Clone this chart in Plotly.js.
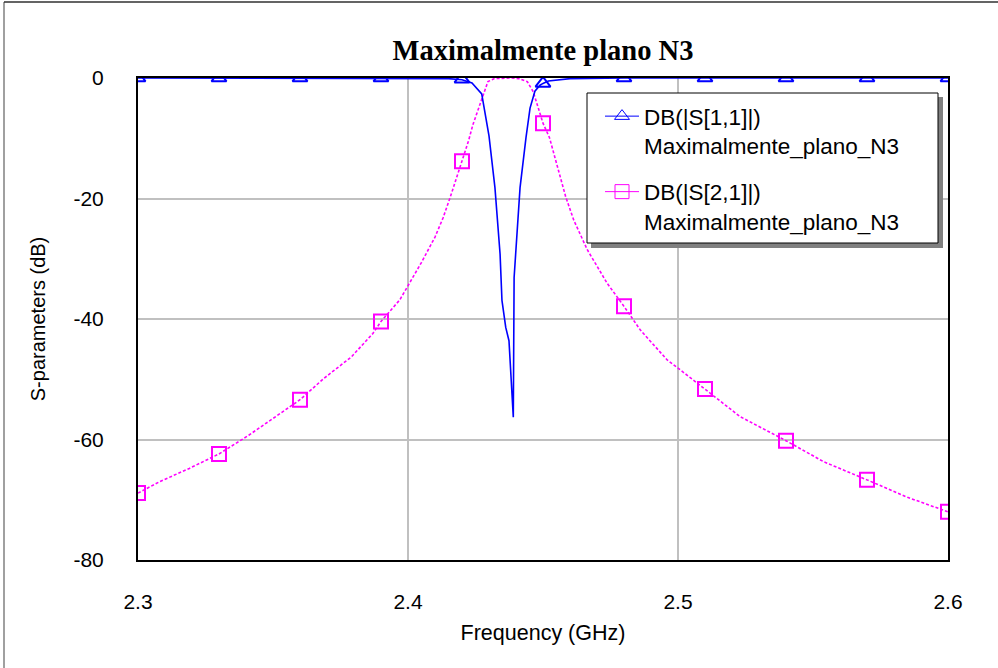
<!DOCTYPE html>
<html>
<head>
<meta charset="utf-8">
<script src="https://cdn.plot.ly/plotly-3.0.1.min.js"></script>
<style>
  html, body { margin: 0; padding: 0; background: #ffffff; }
  #chart { width: 998px; height: 668px; }
</style>
</head>
<body>
<div id="chart"></div>
<script>
// ---- Data ----
const chartTitle = "Maximalmente plano N3";
const xTitle = "Frequency (GHz)";
const yTitle = "S-parameters (dB)";
const s11Name = "DB(|S[1,1]|)<br>Maximalmente_plano_N3";
const s21Name = "DB(|S[2,1]|)<br>Maximalmente_plano_N3";

const xTickVals = [2.3, 2.4, 2.5, 2.6];
const xTickText = ["2.3", "2.4", "2.5", "2.6"];
const yTickVals = [0, -20, -40, -60, -80];
const yTickText = ["0", "-20", "-40", "-60", "-80"];

// S11 curve (GHz, dB)
const s11Freq = [2.300, 2.330, 2.360, 2.390, 2.410, 2.415, 2.420, 2.4237, 2.4273, 2.4300, 2.4322, 2.4341, 2.4348, 2.4362, 2.4374, 2.4390, 2.4393, 2.4415, 2.4437, 2.4452, 2.4470, 2.4489, 2.4500, 2.4520, 2.4600, 2.480, 2.510, 2.540, 2.570, 2.600];
const s11Db   = [0, 0, 0, 0, 0, -0.1, -0.3, -0.83, -2.65, -9.6, -18.2, -29.2, -36.9, -41.4, -43.6, -56.3, -33.1, -18.2, -9.9, -5.0, -2.2, -1.2, -0.9, -0.5, -0.1, 0, 0, 0, 0, 0];
// S11 marker points
const s11MarkFreq = [2.30, 2.33, 2.36, 2.39, 2.42, 2.45, 2.48, 2.51, 2.54, 2.57, 2.60];
const s11MarkDb   = [0, 0, 0, 0, -0.2, -0.9, 0, 0, 0, 0, 0];

// S21 curve (GHz, dB)
const s21Freq = [2.300, 2.308, 2.319, 2.330, 2.341, 2.352, 2.360, 2.369, 2.379, 2.387, 2.390, 2.397, 2.400, 2.405, 2.410, 2.413, 2.416, 2.420, 2.4225, 2.424, 2.4275, 2.4296, 2.432, 2.435, 2.438, 2.441, 2.4442, 2.4464, 2.448, 2.450, 2.4524, 2.4553, 2.4584, 2.4614, 2.4664, 2.4738, 2.480, 2.486, 2.496, 2.501, 2.510, 2.523, 2.540, 2.554, 2.570, 2.585, 2.600];
const s21Db   = [-68.9, -67.0, -64.8, -62.4, -59.3, -55.9, -53.4, -49.8, -46.3, -42.4, -40.4, -36.8, -34.5, -30.6, -26.4, -23.2, -19.3, -13.8, -10.3, -7.8, -3.1, -0.6, -0.1, 0, 0, -0.1, -0.6, -2.3, -4.8, -7.5, -9.9, -14.7, -19.7, -23.6, -28.5, -34.1, -37.9, -41.8, -46.8, -48.5, -51.6, -56.2, -60.2, -63.7, -66.7, -69.6, -72.0];
// S21 marker points
const s21MarkFreq = [2.30, 2.33, 2.36, 2.39, 2.42, 2.45, 2.48, 2.51, 2.54, 2.57, 2.60];
const s21MarkDb   = [-68.9, -62.4, -53.4, -40.4, -13.8, -7.5, -37.9, -51.6, -60.2, -66.7, -72.0];

// ---- Styling ----
const BLUE = "#0000FF";
const MAGENTA = "#FF00FF";
const FONT = "Arial, 'Liberation Sans', sans-serif";

// plot area in pixels: left 138, right 948, top 78, bottom 560
const PL = 138, PR = 948, PT = 78, PB = 560;
const px = v => (v - PL) / (PR - PL);
const py = v => (PB - v) / (PB - PT);

const traces = [
  { x: s21Freq, y: s21Db, mode: "lines", showlegend: false,
    line: { color: MAGENTA, width: 1.6, dash: "3px,2px" } },
  { x: s21MarkFreq, y: s21MarkDb, mode: "markers", showlegend: false,
    marker: { symbol: "square-open", size: 14, color: MAGENTA, line: { color: MAGENTA, width: 2 } } },
  { x: s11Freq, y: s11Db, mode: "lines", showlegend: false,
    line: { color: BLUE, width: 1.6 } },
  { x: s11MarkFreq, y: s11MarkDb, mode: "markers", showlegend: false,
    marker: { symbol: "triangle-up-open", size: 13, color: BLUE, line: { color: BLUE, width: 2 } } },
  // legend entries
  { x: [null], y: [null], mode: "lines+markers", name: s11Name, legendgroup: "a",
    line: { color: BLUE, width: 1 },
    marker: { symbol: "triangle-up-open", size: 13, color: BLUE, line: { color: BLUE, width: 1 } } },
  { x: [null], y: [null], mode: "lines+markers", name: s21Name, legendgroup: "b",
    line: { color: MAGENTA, width: 1 },
    marker: { symbol: "square-open", size: 14, color: MAGENTA, line: { color: MAGENTA, width: 1 } } }
];

const layout = {
  width: 998, height: 668,
  margin: { l: PL, r: 998 - PR, t: PT, b: 668 - PB, autoexpand: false },
  paper_bgcolor: "#ffffff", plot_bgcolor: "#ffffff",
  font: { family: FONT, size: 21, color: "#000000" },
  title: {
    text: chartTitle,
    font: { family: "'Liberation Serif', 'Times New Roman', serif", size: 28.5, color: "#000000", weight: "bold" },
    x: 0.5, xref: "paper", xanchor: "center",
    y: 1 - 50 / 668, yref: "container", yanchor: "middle"
  },
  xaxis: {
    range: [2.3, 2.6], tickmode: "array", tickvals: xTickVals, ticktext: xTickText,
    showgrid: true, gridcolor: "#C0C0C0", gridwidth: 2, zeroline: false,
    showline: true, linecolor: "#000000", linewidth: 2, mirror: true,
    ticks: "", ticklabelstandoff: 22,
    tickfont: { family: FONT, size: 21, color: "#000000" },
    title: { text: xTitle, font: { family: FONT, size: 21.5, color: "#000000" }, standoff: 13 }
  },
  yaxis: {
    range: [-80, 0], tickmode: "array", tickvals: yTickVals, ticktext: yTickText,
    showgrid: true, gridcolor: "#C0C0C0", gridwidth: 2, zeroline: false,
    showline: true, linecolor: "#000000", linewidth: 2, mirror: true,
    ticks: "", ticklabelstandoff: 28,
    tickfont: { family: FONT, size: 21, color: "#000000" },
    title: { text: yTitle, font: { family: FONT, size: 20, color: "#000000" }, standoff: 22 }
  },
  showlegend: true,
  legend: {
    x: px(600), y: py(95), xanchor: "left", yanchor: "top",
    bgcolor: "rgba(0,0,0,0)", borderwidth: 0,
    font: { family: FONT, size: 22.5, color: "#000000" },
    traceorder: "grouped", tracegroupgap: 14, valign: "top", itemwidth: 34
  },
  shapes: [
    // legend shadow
    { type: "rect", xref: "paper", yref: "paper", layer: "above",
      x0: px(591), x1: px(943), y0: py(248), y1: py(97),
      fillcolor: "#808080", line: { width: 0 } },
    // legend box
    { type: "rect", xref: "paper", yref: "paper", layer: "above",
      x0: px(587), x1: px(938), y0: py(243), y1: py(93),
      fillcolor: "#ffffff", line: { color: "#000000", width: 1 } },
    // outer frame (left and top)
    { type: "line", xref: "paper", yref: "paper", layer: "below",
      x0: px(4), x1: px(4), y0: py(668), y1: py(2),
      line: { color: "#808080", width: 1.5 } },
    { type: "line", xref: "paper", yref: "paper", layer: "below",
      x0: px(4), x1: px(998), y0: py(2), y1: py(2),
      line: { color: "#303030", width: 1.5 } }
  ]
};

Plotly.newPlot("chart", traces, layout, { displayModeBar: false, staticPlot: true });
</script>
</body>
</html>
